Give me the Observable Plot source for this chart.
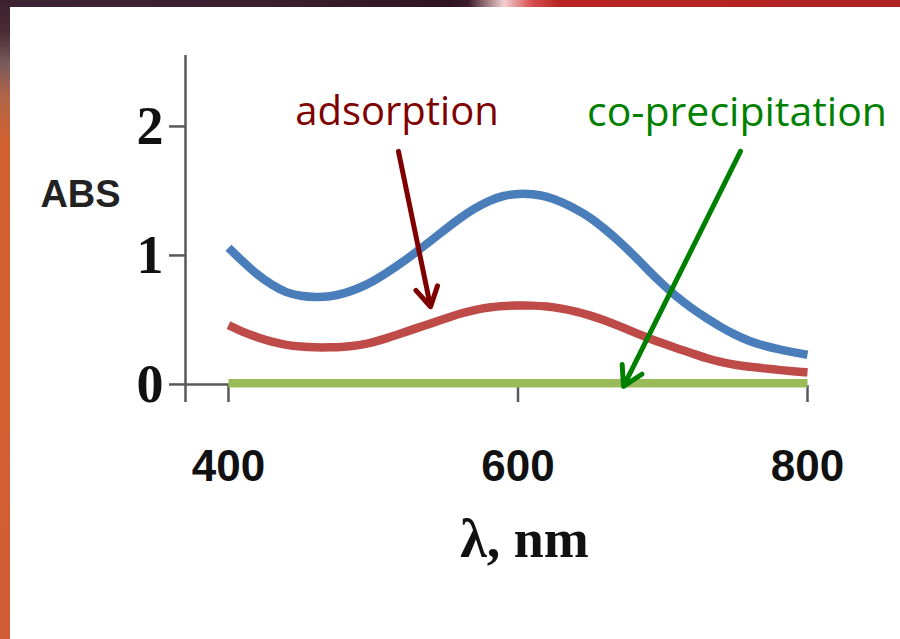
<!DOCTYPE html>
<html><head><meta charset="utf-8">
<script src="https://cdn.jsdelivr.net/npm/d3@7"></script>
<script src="https://cdn.jsdelivr.net/npm/@observablehq/plot@0.6"></script>
<style>
html,body{margin:0;padding:0;background:#fff;}
#wrap{position:relative;width:900px;height:639px;overflow:hidden;background:#fff;}
#chart{position:absolute;left:0;top:0;}
#topband{position:absolute;left:0;top:0;width:900px;height:7px;background:linear-gradient(to right,#3d2434 0%,#3a1f2f 30%,#2f1522 50%,#3a1a28 52%,#f3cfcf 56%,#d85050 59%,#b82424 62%,#b22222 100%);}
#leftband{position:absolute;left:0;top:0;width:10px;height:639px;background:linear-gradient(to bottom,#3a2030 0%,#4a2c34 5%,#7a5a5a 10%,#b0654a 15%,#d0602f 22%,#d45f30 60%,#cf5c34 100%);}
</style></head>
<body><div id="wrap"><div id="chart"></div><div id="topband"></div><div id="leftband"></div></div>
<script>
// wavelength, nm
const wavelength = [400,410,420,430,440,450,460,470,480,490,500,510,520,530,540,550,560,570,580,590,600,610,620,630,640,650,660,670,680,690,700,710,720,730,740,750,760,770,780,790,800];
// blue curve (ABS)
const absBlue = [1.06,0.95,0.85,0.77,0.71,0.685,0.675,0.68,0.705,0.745,0.80,0.87,0.945,1.03,1.115,1.205,1.29,1.365,1.425,1.465,1.48,1.478,1.457,1.415,1.36,1.295,1.205,1.11,1.00,0.885,0.775,0.675,0.59,0.515,0.445,0.385,0.335,0.30,0.272,0.25,0.23];
// adsorption (red)
const absAdsorption = [0.46,0.405,0.365,0.33,0.305,0.292,0.287,0.287,0.292,0.303,0.327,0.36,0.398,0.437,0.473,0.512,0.55,0.578,0.597,0.609,0.613,0.612,0.605,0.589,0.566,0.535,0.497,0.452,0.405,0.36,0.318,0.279,0.242,0.204,0.173,0.152,0.137,0.124,0.113,0.102,0.094];
// co-precipitation (green)
const wavelengthCopr = [400,600,800];
const absCoprecipitation = [0.01,0.01,0.01];

const xTicks = [400,600,800];
const yTicks = [0,1,2];
const xDomain = [370.3,800];
const yDomain = [-0.14,2.55];

const annotText = ["adsorption","co-precipitation"];
const annotX = [516.4,751.3];
const annotY = [2.107,2.107];
const arrowX1 = [517.4,753.7];
const arrowY1 = [1.807,1.807];
const arrowX2 = [539.6,672.9];
const arrowY2 = [0.602,-0.015];

const rows = (xs, ys) => xs.map((x,i) => ({wavelength:x, abs:ys[i]}));
const blueRows = rows(wavelength, absBlue);
const redRows = rows(wavelength, absAdsorption);
const greenRows = rows(wavelengthCopr, absCoprecipitation);
const ann = annotText.map((t,i)=>({text:t,x:annotX[i],y:annotY[i],x1:arrowX1[i],y1:arrowY1[i],x2:arrowX2[i],y2:arrowY2[i]}));

const axisColor = "#595959";
const lineOpts = {x:"wavelength", y:"abs", strokeWidth:8.5, curve:"basis", strokeLinecap:"butt"};

const chart = Plot.plot({
  width:900, height:639,
  marginLeft:185, marginRight:93, marginTop:55, marginBottom:237,
  x:{domain:xDomain},
  y:{domain:yDomain},
  style:{background:"transparent", overflow:"visible"},
  marks:[
    Plot.ruleX([xDomain[0]], {stroke:axisColor, strokeWidth:2.5}),
    Plot.ruleY([0], {stroke:axisColor, strokeWidth:2.5}),
    Plot.axisY({ticks:yTicks, tickSize:16, tickPadding:6, stroke:axisColor, strokeWidth:2.5, label:null,
      tickFormat:d=>String(d), fontSize:54, fontFamily:"Liberation Serif", fontWeight:"bold", fill:"#111"}),
    Plot.axisX({ticks:xTicks, tickSize:-17, stroke:axisColor, strokeWidth:2.5, fill:"none", label:null}),
    Plot.axisX({ticks:xTicks, tickSize:0, tickPadding:47, label:null, tickFormat:d=>String(d),
      fontSize:44, fontFamily:"Liberation Sans", fontWeight:"bold", fill:"#111"}),
    Plot.line(blueRows, {...lineOpts, stroke:"#4A7EBB"}),
    Plot.line(redRows, {...lineOpts, stroke:"#BE4B48"}),
    Plot.line(greenRows, {...lineOpts, stroke:"#9BBB59"}),
    Plot.arrow([ann[0]], {x1:"x1", y1:"y1", x2:"x2", y2:"y2", stroke:"#7f0000", strokeWidth:5, headLength:6.6, headAngle:60}),
    Plot.arrow([ann[1]], {x1:"x1", y1:"y1", x2:"x2", y2:"y2", stroke:"#008000", strokeWidth:5, headLength:6.6, headAngle:60}),
    Plot.text([ann[0]], {x:"x", y:"y", text:"text", fill:"#7f0000", fontSize:40, fontFamily:"Open Sans", textAnchor:"middle", lineAnchor:"middle"}),
    Plot.text([ann[1]], {x:"x", y:"y", text:"text", fill:"#008000", fontSize:41, fontFamily:"Open Sans", textAnchor:"middle", lineAnchor:"middle"}),
    Plot.text(["ABS"], {frameAnchor:"top-left", dx:-105, dy:139.5, fontSize:38, fontFamily:"Liberation Sans", fontWeight:"bold", fill:"#222", textAnchor:"middle", lineAnchor:"middle"}),
    Plot.text(["λ, nm"], {frameAnchor:"bottom", dx:28, dy:137, fontSize:54, fontFamily:"Liberation Serif", fontWeight:"bold", fill:"#111", textAnchor:"middle", lineAnchor:"middle"})
  ]
});
document.getElementById("chart").appendChild(chart);
</script>
</body></html>
